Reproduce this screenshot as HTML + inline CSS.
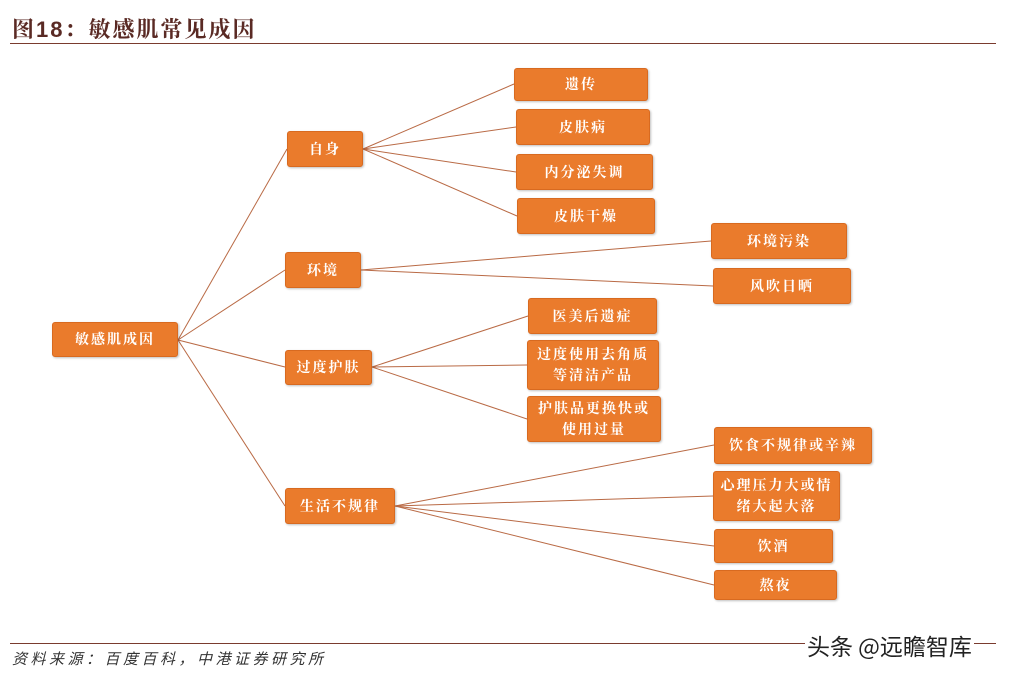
<!DOCTYPE html>
<html><head><meta charset="utf-8"><style>
body{margin:0;width:1009px;height:676px;background:#fff;position:relative;overflow:hidden;font-family:"Liberation Sans","Noto Serif CJK SC","Noto Sans CJK SC",sans-serif}
.t{position:absolute;left:12px;top:13px;font-size:22px;font-weight:bold;color:#5a2a24;font-family:"Liberation Sans","Noto Serif CJK SC",serif;letter-spacing:2px}
.b{position:absolute;background:#ea7b2c;border:1.5px solid #d86a20;border-radius:3px;color:#fff;font-size:14px;font-weight:bold;display:flex;align-items:center;justify-content:center;text-align:center;line-height:21px;letter-spacing:2px;box-sizing:border-box;font-family:"Noto Serif CJK SC",serif;box-shadow:1px 1px 2px rgba(0,0,0,.25)}
.f{position:absolute;left:12px;top:648px;font-size:15px;font-style:italic;color:#333;font-family:"Noto Sans CJK SC",sans-serif;letter-spacing:3.5px}
.w{position:absolute;left:805px;top:628px;font-size:23px;color:#222;font-family:"Noto Sans CJK SC",sans-serif;background:#fff;padding:0 2px}
</style></head><body>
<div class="t">图18：敏感肌常见成因</div>
<div style="position:absolute;left:10px;top:43px;width:986px;height:1px;background:#7a3b2e"></div>
<div style="position:absolute;left:10px;top:643px;width:986px;height:1px;background:#7a3b2e"></div>
<svg width="1009" height="676" style="position:absolute;left:0;top:0" stroke="#b96a45" stroke-width="1" fill="none">
<line x1="178" y1="340" x2="287" y2="149"/>
<line x1="178" y1="340" x2="285" y2="270"/>
<line x1="178" y1="340" x2="285" y2="367"/>
<line x1="178" y1="340" x2="285" y2="506"/>
<line x1="363" y1="149" x2="514" y2="84"/>
<line x1="363" y1="149" x2="516" y2="127"/>
<line x1="363" y1="149" x2="516" y2="172"/>
<line x1="363" y1="149" x2="517" y2="216"/>
<line x1="361" y1="270" x2="711" y2="241"/>
<line x1="361" y1="270" x2="713" y2="286"/>
<line x1="372" y1="367" x2="528" y2="316"/>
<line x1="372" y1="367" x2="527" y2="365"/>
<line x1="372" y1="367" x2="527" y2="419"/>
<line x1="395" y1="506" x2="714" y2="445"/>
<line x1="395" y1="506" x2="713" y2="496"/>
<line x1="395" y1="506" x2="714" y2="546"/>
<line x1="395" y1="506" x2="714" y2="585"/>
</svg>
<div class="b" style="left:52px;top:322px;width:126px;height:35px">敏感肌成因</div>
<div class="b" style="left:287px;top:131px;width:76px;height:36px">自身</div>
<div class="b" style="left:285px;top:252px;width:76px;height:36px">环境</div>
<div class="b" style="left:285px;top:350px;width:87px;height:35px">过度护肤</div>
<div class="b" style="left:285px;top:488px;width:110px;height:36px">生活不规律</div>
<div class="b" style="left:514px;top:68px;width:134px;height:33px">遗传</div>
<div class="b" style="left:516px;top:109px;width:134px;height:36px">皮肤病</div>
<div class="b" style="left:516px;top:154px;width:137px;height:36px">内分泌失调</div>
<div class="b" style="left:517px;top:198px;width:138px;height:36px">皮肤干燥</div>
<div class="b" style="left:711px;top:223px;width:136px;height:36px">环境污染</div>
<div class="b" style="left:713px;top:268px;width:138px;height:36px">风吹日晒</div>
<div class="b" style="left:528px;top:298px;width:129px;height:36px">医美后遗症</div>
<div class="b" style="left:527px;top:340px;width:132px;height:50px">过度使用去角质<br>等清洁产品</div>
<div class="b" style="left:527px;top:396px;width:134px;height:46px">护肤品更换快或<br>使用过量</div>
<div class="b" style="left:714px;top:427px;width:158px;height:37px">饮食不规律或辛辣</div>
<div class="b" style="left:713px;top:471px;width:127px;height:50px">心理压力大或情<br>绪大起大落</div>
<div class="b" style="left:714px;top:529px;width:119px;height:34px">饮酒</div>
<div class="b" style="left:714px;top:570px;width:123px;height:30px">熬夜</div>
<div class="f">资料来源：百度百科，中港证券研究所</div>
<div class="w">头条 @远瞻智库</div>
</body></html>
